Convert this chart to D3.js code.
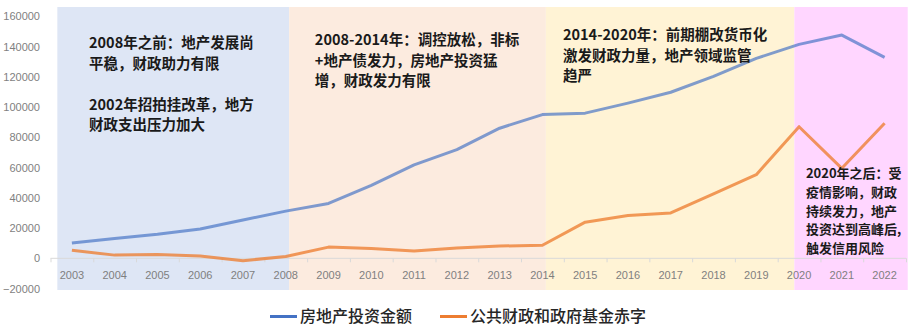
<!DOCTYPE html>
<html><head><meta charset="utf-8">
<script src="https://cdn.jsdelivr.net/npm/d3@7/dist/d3.min.js"></script>
<style>
body{margin:0;background:#fff;}
svg{display:block;}
</style></head>
<body><svg id="c" width="915" height="330"></svg>
<script>
const years = [2003,2004,2005,2006,2007,2008,2009,2010,2011,2012,2013,2014,2015,2016,2017,2018,2019,2020,2021,2022];
const realEstate = [10154,13158,15909,19423,25289,31203,36242,48259,61797,71804,86013,95036,95979,102581,109799,120264,132194,141443,147602,132895];
const deficit = [5300,2100,2500,1500,-1600,1200,7400,6400,4800,6800,8100,8600,23900,28300,30000,42600,55300,87000,59500,89300];
const yTicks = [-20000,0,20000,40000,60000,80000,100000,120000,140000,160000];
const seriesNames = ["房地产投资金额","公共财政和政府基金赤字"];
const bandEdges = [2002.66, 2008.08, 2014.08, 2019.89, 2022.54];
const bandColors = ["#dee6f5","#fcebdf","#fff3d5","#ffd6ff"];
const notes = [
  {year:2003.4, y:139000, size:14.5, lh:20.5, lines:["2008年之前：地产发展尚","平稳，财政助力有限","","2002年招拍挂改革，地方","财政支出压力加大"]},
  {year:2008.68, y:141000, size:14.5, lh:20.5, lines:["2008-2014年：调控放松，非标","+地产债发力，房地产投资猛","增，财政发力有限"]},
  {year:2014.48, y:144300, size:14.5, lh:20.5, lines:["2014-2020年：前期棚改货币化","激发财政力量，地产领域监管","趋严"]},
  {year:2020.16, y:53100, size:13, lh:18.8, lines:["2020年之后：受","疫情影响，财政","持续发力，地产","投资达到高峰后,","触发信用风险"]}
];

const svg = d3.select("#c");
const x = d3.scaleLinear().domain([2002.5, 2022.5]).range([50.5, 906]);
const y = d3.scaleLinear().domain([0, 160000]).range([258.3, 16.3]);
const bandTop = 7, bandBottom = 290;

// bands
svg.selectAll("rect.band").data(bandColors).enter().append("rect")
  .attr("x", (d,i)=>x(bandEdges[i]))
  .attr("width", (d,i)=>x(bandEdges[i+1])-x(bandEdges[i]))
  .attr("y", bandTop).attr("height", bandBottom-bandTop)
  .attr("fill", d=>d);

// y axis labels
const yAxis = d3.axisLeft(y).tickValues(yTicks).tickSize(0).tickPadding(0).tickFormat(d3.format("d"));
const ya = svg.append("g").attr("transform","translate(40,0)").call(yAxis);
ya.select(".domain").remove();
ya.selectAll("text").attr("fill","#7f7f7f").attr("font-family","Liberation Sans, Arial, sans-serif").attr("font-size","11px");

// zero axis with ticks at category boundaries
const xAxis = d3.axisBottom(x).tickValues(d3.range(2002.5, 2023, 1)).tickSize(4).tickFormat("");
const xa = svg.append("g").attr("transform",`translate(0,${y(0)})`).call(xAxis);
xa.select(".domain").attr("stroke","#d9d9d9").attr("d",`M${x(2002.5)},0H${x(2022.5)}`);
xa.selectAll(".tick line").attr("stroke","#d9d9d9");

// x labels
svg.append("g").selectAll("text").data(years).enter().append("text")
  .attr("x", d=>x(d)).attr("y", 279)
  .attr("text-anchor","middle")
  .attr("fill","#7f7f7f").attr("font-family","Liberation Sans, Arial, sans-serif").attr("font-size","11px")
  .text(d=>d);

// lines
const line = d3.line().x((d,i)=>x(years[i])).y(d=>y(d));
svg.append("path").datum(realEstate).attr("d", line).attr("fill","none")
  .attr("stroke","#4472c4").attr("stroke-opacity",0.68).attr("stroke-width",3).attr("stroke-linejoin","round");
svg.append("path").datum(deficit).attr("d", line).attr("fill","none")
  .attr("stroke","#ed7d31").attr("stroke-opacity",0.78).attr("stroke-width",3).attr("stroke-linejoin","round");

// notes
const font = "'Noto Sans CJK SC', sans-serif";
notes.forEach(n=>{
  const t = svg.append("text").attr("font-family",font).attr("font-weight","bold")
    .attr("font-size", n.size+"px").attr("fill","#1a1a1a");
  n.lines.forEach((s,i)=>{
    t.append("tspan").attr("x", x(n.year)).attr("y", y(n.y)).attr("dy", i*n.lh).text(s);
  });
});

// legend
const leg = svg.append("g");
const legColors = ["#4472c4","#ed7d31"];
const legX = [270, 440];
legColors.forEach((c,i)=>{
  leg.append("line").attr("x1",legX[i]).attr("x2",legX[i]+27).attr("y1",316.5).attr("y2",316.5)
    .attr("stroke",c).attr("stroke-width",3);
  leg.append("text").attr("x",legX[i]+30).attr("y",322).attr("font-family",font)
    .attr("font-size","16px").attr("font-weight","500").attr("fill","#262626").text(seriesNames[i]);
});
</script></body></html>
